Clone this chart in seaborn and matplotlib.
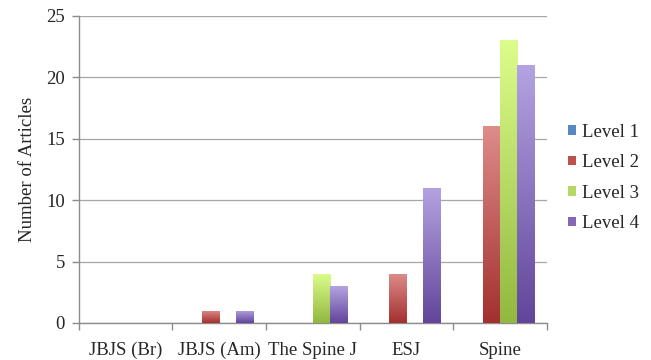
import numpy as np
import pandas as pd
import matplotlib
matplotlib.use("Agg")
import matplotlib.pyplot as plt
import matplotlib.colors as mcolors
from matplotlib.patches import Patch
import seaborn as sns

journals = ["JBJS (Br)", "JBJS (Am)", "The Spine J", "ESJ", "Spine"]
levels = ["Level 1", "Level 2", "Level 3", "Level 4"]
level1 = [0, 0, 0, 0, 0]
level2 = [0, 1, 0, 4, 16]
level3 = [0, 0, 4, 0, 23]
level4 = [0, 1, 3, 11, 21]

# top (light) and bottom (dark) colours of each series' gradient
tops = ["#9db8e6", "#de8c8a", "#dcfd8c", "#b4a3e2"]
bottoms = ["#3f6aa8", "#a3302f", "#92b83f", "#62459a"]
mids = ["#5b86c4", "#c0504d", "#b5d865", "#8468b4"]

df = pd.DataFrame({
    "Journal": np.repeat(journals, len(levels)),
    "Level": levels * len(journals),
    "Articles": np.ravel(np.column_stack([level1, level2, level3, level4])),
})

sns.set_style("white")
plt.rcParams["font.family"] = ["Liberation Serif", "DejaVu Serif"]
FS = 13.5

fig = plt.figure(figsize=(6.51, 3.6), dpi=100)
ax = fig.add_axes([0.121, 0.103, 0.719, 0.853])

sns.barplot(data=df, x="Journal", y="Articles", hue="Level", order=journals,
            hue_order=levels, palette=mids, width=0.727, gap=0,
            errorbar=None, legend=False, ax=ax, linewidth=0, zorder=3)

# paint a vertical gradient into every bar
grad = np.linspace(0, 1, 256).reshape(-1, 1)
for i, lvl in enumerate(levels):
    cmap = mcolors.LinearSegmentedColormap.from_list(lvl, [bottoms[i], tops[i]])
    for bar in ax.containers[i]:
        h = bar.get_height()
        if h <= 0:
            continue
        x0 = bar.get_x()
        w = bar.get_width()
        im = ax.imshow(grad, cmap=cmap, origin="lower", aspect="auto",
                       extent=[x0, x0 + w, 0, h], zorder=4,
                       interpolation="bilinear")
        im.set_clip_path(bar)

ax.set_xlim(-0.5, len(journals) - 0.5)
ax.set_ylim(0, 25)
ax.set_yticks(range(0, 26, 5))
ax.yaxis.grid(True, color="#a6a6a6", linewidth=0.9)
ax.set_axisbelow(True)

for side in ["top", "right"]:
    ax.spines[side].set_visible(False)
for side in ["left", "bottom"]:
    ax.spines[side].set_color("#8c8c8c")
    ax.spines[side].set_linewidth(1.0)

ax.set_xlabel("")
ax.set_ylabel("Number of Articles", fontsize=FS, labelpad=7)
ax.tick_params(axis="y", which="major", left=True, length=5, width=1,
               color="#8c8c8c", labelsize=FS, pad=5)
ax.tick_params(axis="x", which="major", bottom=False, labelsize=FS, pad=10)
ax.set_xticks(np.arange(-0.5, len(journals)), minor=True)
ax.tick_params(axis="x", which="minor", bottom=True, length=5, width=1,
               color="#8c8c8c")

handles = [Patch(facecolor=mids[i], edgecolor="none", label=lvl)
           for i, lvl in enumerate(levels)]
fig.legend(handles=handles, loc="center left", bbox_to_anchor=(0.8725, 0.506),
           frameon=False, fontsize=FS, handlelength=0.42, handleheight=0.42,
           handletextpad=0.35, labelspacing=0.72, borderpad=0,
           borderaxespad=0)

fig.savefig("out.png", dpi=100)
